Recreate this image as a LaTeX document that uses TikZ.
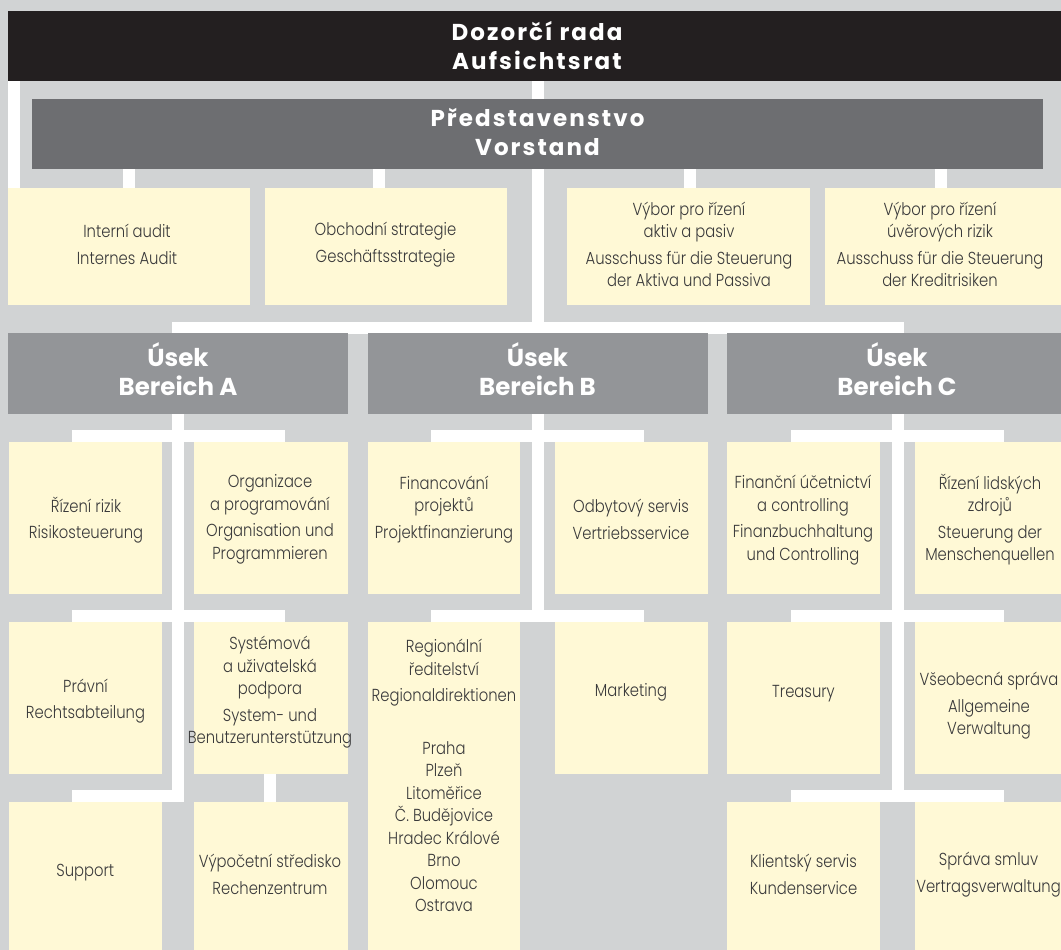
\documentclass[tikz,border=0pt]{standalone}
\usepackage{fontspec}
\setmainfont{Poppins}
\newfontfamily\bxf{Poppins}[UprightFont=* Light, FakeStretch=0.85]
\newfontfamily\hdf{Poppins}[LetterSpace=9]
\usetikzlibrary{fit,calc}
\definecolor{pagebg}{HTML}{D1D3D4}
\definecolor{blk}{HTML}{231F20}
\definecolor{vgray}{HTML}{6D6E71}
\definecolor{bgray}{HTML}{939598}
\definecolor{ylw}{HTML}{FFF9D6}
\definecolor{txtc}{HTML}{3A3A3B}
\pgfdeclarelayer{pagelayer}
\pgfdeclarelayer{linelayer}
\pgfsetlayers{pagelayer,linelayer,main}
\begin{document}
\begin{tikzpicture}[x=1pt,y=-1pt,
  every node/.style={inner sep=0pt, outer sep=0pt},
  topbar/.style={fill=blk},
  vorbar/.style={fill=vgray},
  secbar/.style={fill=bgray},
  unit/.style={fill=ylw},
  toptext/.style={text=white, align=center, font=\hdf\bfseries\fontsize{23}{29}\selectfont},
  sectext/.style={text=white, align=center, font=\bfseries\fontsize{24.5}{29}\selectfont},
  utext/.style={text=txtc, align=center, font=\bxf\fontsize{17.4}{22.5}\selectfont},
  conn/.style={draw=white, line width=12pt}
]
\useasboundingbox (0,0) rectangle (1061,950);
\begin{pgfonlayer}{pagelayer}
\fill[pagebg] (0,0) rectangle (1061,950);
\end{pgfonlayer}

% top bars
\node[topbar, fit={(8,11) (1068,81)}] (ds) {};
\node[vorbar, fit={(32,99) (1043,169)}] (pr) {};

% staff boxes
\node[unit, fit={(8,188) (250,305)}] (ia) {};
\node[unit, fit={(265,188) (507,305)}] (os) {};
\node[unit, fit={(567,188) (810,305)}] (v1) {};
\node[unit, fit={(825,188) (1068,305)}] (v2) {};

% sections
\node[secbar, fit={(8,333) (348,414)}] (ba) {};
\node[secbar, fit={(368,333) (708,414)}] (bb) {};
\node[secbar, fit={(727,333) (1067,414)}] (bc) {};

% units
\node[unit, fit={(9,442) (162,594)}] (a1) {};
\node[unit, fit={(194,442) (348,594)}] (a2) {};
\node[unit, fit={(368,442) (520,594)}] (b1) {};
\node[unit, fit={(555,442) (708,594)}] (b2) {};
\node[unit, fit={(727,442) (880,594)}] (c1) {};
\node[unit, fit={(915,442) (1068,594)}] (c2) {};
\node[unit, fit={(9,622) (162,774)}] (a3) {};
\node[unit, fit={(194,622) (348,774)}] (a4) {};
\node[unit, fit={(368,622) (520,950)}] (b3) {};
\node[unit, fit={(555,622) (708,774)}] (b4) {};
\node[unit, fit={(727,622) (880,774)}] (c3) {};
\node[unit, fit={(915,622) (1068,774)}] (c4) {};
\node[unit, fit={(9,802) (162,950)}] (a5) {};
\node[unit, fit={(194,802) (348,950)}] (a6) {};
\node[unit, fit={(727,802) (880,950)}] (c5) {};
\node[unit, fit={(915,802) (1068,950)}] (c6) {};

\coordinate (av) at ($(a1.east)!0.5!(a2.west)$);
\coordinate (bv) at ($(b1.east)!0.5!(b2.west)$);
\coordinate (cv) at ($(c1.east)!0.5!(c2.west)$);

% header texts
\node[toptext] (t-ds) at (537,45.5) {Dozorčí rada\\Aufsichtsrat};
\node[toptext] (t-pr) at (537.5,132) {Představenstvo\\Vorstand};
\node[sectext] (t-ba) at (178,369.5) {Úsek\\Bereich A};
\node[sectext] (t-bb) at (537.5,369.5) {Úsek\\Bereich B};
\node[sectext] (t-bc) at (897,369.5) {Úsek\\Bereich C};

% unit texts
\node[utext] (t-ia) at (127,244.5) {Interní audit\\[4pt]Internes Audit};
\node[utext] (t-os) at (385.5,244.5) {Obchodní strategie\\[4pt]Geschäftsstrategie};
\node[utext] (t-v1) at (689,244.5) {Výbor pro řízení\\aktiv a pasiv\\[4pt]Ausschuss für die Steuerung\\der Aktiva und Passiva};
\node[utext] (t-v2) at (940,244.5) {Výbor pro řízení\\úvěrových rizik\\[4pt]Ausschuss für die Steuerung\\der Kreditrisiken};
\node[utext] (t-a1) at (86,520) {Řízení rizik\\[4pt]Risikosteuerung};
\node[utext] (t-a2) at (270,519.5) {Organizace\\a programování\\[4pt]Organisation und\\Programmieren};
\node[utext] (t-b1) at (444,509.5) {Financování\\projektů\\[4pt]Projektfinanzierung};
\node[utext] (t-b2) at (631,519.5) {Odbytový servis\\[4pt]Vertriebsservice};
\node[utext] (t-c1) at (803,520) {Finanční účetnictví\\a controlling\\[4pt]Finanzbuchhaltung\\und Controlling};
\node[utext] (t-c2) at (990,519.5) {Řízení lidských\\zdrojů\\[4pt]Steuerung der\\Menschenquellen};
\node[utext] (t-a3) at (85.5,701) {Právní\\[4pt]Rechtsabteilung};
\node[utext] (t-a4) at (270,692.5) {Systémová\\a uživatelská\\podpora\\[4pt]System- und\\Benutzerunterstützung};
\node[utext] (t-b3) at (444,775.4) {Regionální\\ředitelství\\[4pt]Regionaldirektionen\\[30pt]Praha\\Plzeň\\Litoměřice\\Č. Budějovice\\Hradec Králové\\Brno\\Olomouc\\Ostrava};
\node[utext] (t-b4) at (631,692) {Marketing};
\node[utext] (t-c3) at (803.5,694) {Treasury};
\node[utext] (t-c4) at (989,706) {Všeobecná správa\\[4pt]Allgemeine\\Verwaltung};
\node[utext] (t-a5) at (85.3,873) {Support};
\node[utext] (t-a6) at (270,874.5) {Výpočetní středisko\\[4pt]Rechenzentrum};
\node[utext] (t-c5) at (803.5,874.5) {Klientský servis\\[4pt]Kundenservice};
\node[utext] (t-c6) at (988.5,874.5) {Správa smluv\\[4pt]Vertragsverwaltung};

% connectors (behind the boxes)
\begin{pgfonlayer}{linelayer}
\draw[conn] ([xshift=6pt]ds.south west) -- ([xshift=6pt]ia.north west);
\draw[conn] (ds.south -| bv) -- (b3.north -| bv);
\draw[conn, line cap=rect] ($(ba.north -| av)+(0,-5.5)$) -- ($(bc.north -| cv)+(0,-5.5)$);
\draw[conn] ($(ba.north -| av)+(0,-5.5)$) -- ($(a5.north -| av)+(0,-6)$) -- ($(a5.north -| av)+(-106.5,-6)$);
\draw[conn] ($(bc.north -| cv)+(0,-5.5)$) -- (c5.north -| cv);
\draw[conn] ($(a1.north -| av)+(-106.5,-6)$) -- ($(a1.north -| av)+(106.5,-6)$);
\draw[conn] ($(a3.north -| av)+(-106.5,-6)$) -- ($(a3.north -| av)+(106.5,-6)$);
\draw[conn] ($(b1.north -| bv)+(-106.5,-6)$) -- ($(b1.north -| bv)+(106.5,-6)$);
\draw[conn] ($(b3.north -| bv)+(-106.5,-6)$) -- ($(b3.north -| bv)+(106.5,-6)$);
\draw[conn] ($(c1.north -| cv)+(-106.5,-6)$) -- ($(c1.north -| cv)+(106.5,-6)$);
\draw[conn] ($(c3.north -| cv)+(-106.5,-6)$) -- ($(c3.north -| cv)+(106.5,-6)$);
\draw[conn] ($(c5.north -| cv)+(-106.5,-6)$) -- ($(c5.north -| cv)+(106.5,-6)$);
\draw[conn] (pr.south -| ia.north) -- (ia.north);
\draw[conn] ($(pr.south -| os.north)+(-7,0)$) -- ($(os.north)+(-7,0)$);
\draw[conn] ($(pr.south -| v1.north)+(1.5,0)$) -- ($(v1.north)+(1.5,0)$);
\draw[conn] ($(pr.south -| v2.north)+(-5.5,0)$) -- ($(v2.north)+(-5.5,0)$);
\draw[conn] ($(a4.south)+(-1.5,0)$) -- ($(a6.north)+(-1.5,0)$);
\end{pgfonlayer}
\end{tikzpicture}
\end{document}
